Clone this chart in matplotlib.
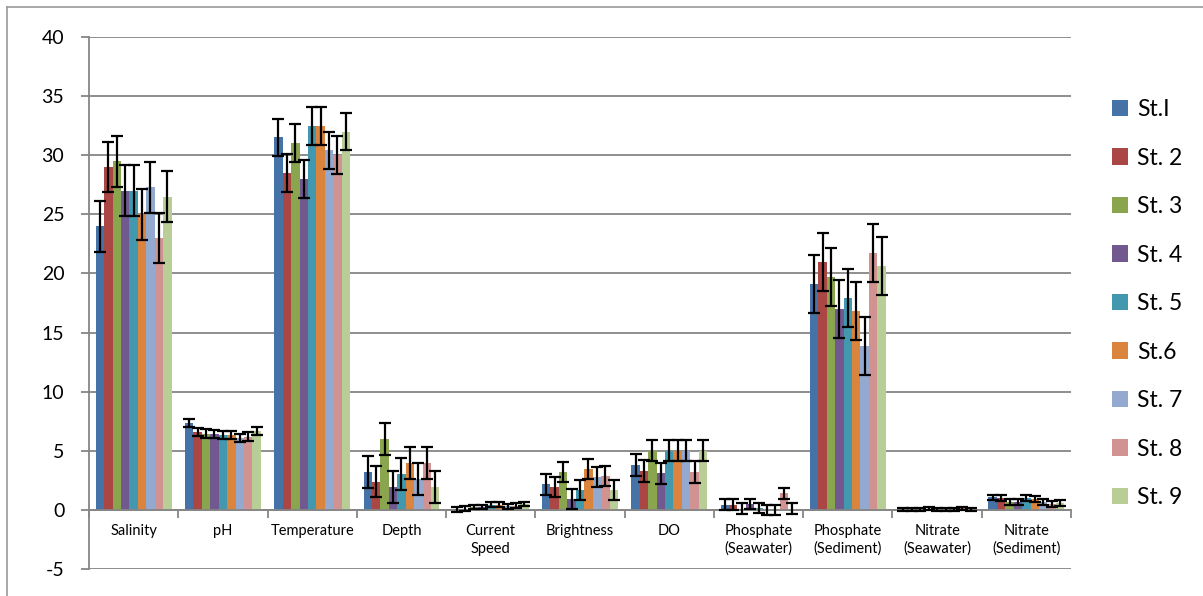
import matplotlib
matplotlib.use("Agg")
import matplotlib.pyplot as plt
from matplotlib.lines import Line2D
import numpy as np

plt.rcParams['font.family'] = ['Lato', 'DejaVu Sans']
plt.rcParams['axes.unicode_minus'] = False

categories = ["Salinity", "pH", "Temperature", "Depth", "Current\nSpeed",
              "Brightness", "DO", "Phosphate\n(Seawater)", "Phosphate\n(Sediment)",
              "Nitrate\n(Seawater)", "Nitrate\n(Sediment)"]

stations = ["St.I", "St. 2", "St. 3", "St. 4", "St. 5", "St.6", "St. 7", "St. 8", "St. 9"]

st1 = [24.0, 7.35, 31.5, 3.2, 0.05, 2.15, 3.8, 0.45, 19.1, 0.05, 1.05]
st2 = [29.0, 6.6, 28.5, 2.4, 0.1, 1.95, 3.3, 0.45, 21.0, 0.05, 1.0]
st3 = [29.5, 6.45, 31.0, 6.0, 0.25, 3.2, 5.0, 0.1, 19.7, 0.05, 0.65]
st4 = [27.0, 6.4, 28.0, 1.9, 0.25, 0.95, 3.1, 0.5, 17.0, 0.1, 0.65]
st5 = [27.0, 6.35, 32.5, 3.0, 0.45, 1.7, 5.0, 0.15, 17.9, 0.05, 1.0]
st6 = [25.0, 6.35, 32.5, 3.95, 0.45, 3.45, 5.0, 0.0, 16.8, 0.05, 0.95]
st7 = [27.3, 6.1, 30.4, 2.6, 0.3, 2.75, 5.0, 0.0, 13.9, 0.05, 0.7]
st8 = [23.0, 6.2, 30.0, 3.95, 0.35, 2.9, 3.2, 1.4, 21.7, 0.15, 0.5]
st9 = [26.5, 6.7, 32.0, 1.9, 0.5, 1.7, 5.0, 0.1, 20.6, 0.05, 0.55]

# standard deviation per parameter (same for every station)
errors = [2.15, 0.35, 1.6, 1.35, 0.2, 0.85, 0.9, 0.45, 2.45, 0.12, 0.25]

colors = ["#4572A7", "#AA4643", "#89A54E", "#71588F", "#4198AF",
          "#DB843D", "#93A9CF", "#D19392", "#B9CD96"]

series = [st1, st2, st3, st4, st5, st6, st7, st8, st9]

W, H = 1203, 596
fig = plt.figure(figsize=(W / 100, H / 100), dpi=100)
ax = fig.add_axes([89 / W, 1 - 569 / H, (1071 - 89) / W, (569 - 37) / H])

grid_c = "#868686"
x = np.arange(len(categories))
bw = 0.85 / 9
for j, (vals, c, name) in enumerate(zip(series, colors, stations)):
    ax.bar(x + (j - 4) * bw, vals, width=bw, color=c, label=name, zorder=2)
for j, vals in enumerate(series):
    ax.errorbar(x + (j - 4) * bw, vals, yerr=errors, fmt='none', ecolor='black',
                elinewidth=1.6, capsize=4.3, capthick=1.6, zorder=3)

ax.set_xlim(-0.5, len(categories) - 0.5)
ax.set_ylim(-5, 40)
ax.set_yticks(np.arange(-5, 41, 5))
ax.yaxis.grid(True, color=grid_c, linewidth=1.3)
ax.set_axisbelow(True)

for s in ["top", "right"]:
    ax.spines[s].set_visible(False)
ax.spines["left"].set_color(grid_c)
ax.spines["left"].set_linewidth(1.3)
ax.spines["bottom"].set_position(("data", 0))
ax.spines["bottom"].set_color(grid_c)
ax.spines["bottom"].set_linewidth(1.3)

ax.set_xticks(x)
ax.set_xticklabels(categories, fontsize=10.5, linespacing=1.35)
ax.set_xticks(np.arange(-0.5, len(categories), 1.0), minor=True)
ax.tick_params(axis="x", which="major", length=0, pad=10)
ax.tick_params(axis="x", which="minor", length=5.8, color=grid_c, width=1.3, direction="out")
ax.tick_params(axis="y", length=5.8, color=grid_c, width=1.3, labelsize=14, pad=12)

ax.legend(loc="upper left", bbox_to_anchor=(1112 / W, 1 - 99 / H),
          bbox_transform=fig.transFigure, frameon=False, fontsize=16.5,
          handlelength=0.7, handleheight=0.7, handletextpad=0.4,
          labelspacing=1.2, borderpad=0, borderaxespad=0)

border_c = "#9a9a9a"
fig.add_artist(Line2D([7 / W, 7 / W], [0, 1 - 7 / H], transform=fig.transFigure,
                      color=border_c, linewidth=1.2))
fig.add_artist(Line2D([7 / W, 1], [1 - 7 / H, 1 - 7 / H], transform=fig.transFigure,
                      color=border_c, linewidth=1.2))

fig.savefig("out.png", dpi=100)
